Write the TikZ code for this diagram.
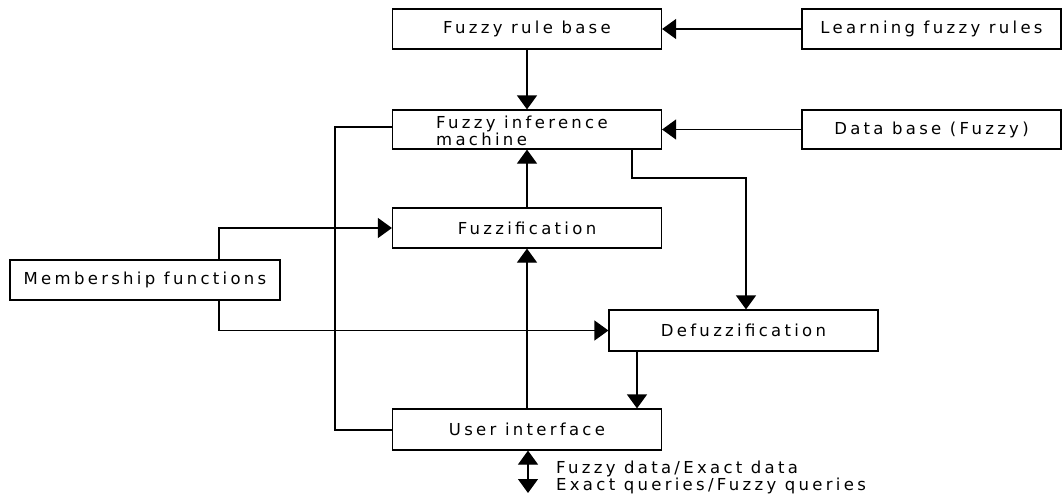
\documentclass[tikz,border=0pt]{standalone}
\usepackage{fontspec}
\setmainfont{DejaVu Sans}[LetterSpace=20]
\usetikzlibrary{arrows.meta}
\begin{document}
\begin{tikzpicture}[x=1pt,y=-1pt,
  box/.style={draw,line width=1.2pt,minimum height=40pt,inner sep=0pt,font=\fontsize{16.5}{16.5}\selectfont},
  conn/.style={line width=1.2pt},
  arr/.style={conn,-{Triangle[width=20pt,length=14pt]}},
  lbl/.style={font=\fontsize{16.5}{16.5}\selectfont,align=left,inner sep=0pt,anchor=north west}
]
\useasboundingbox (0,0) rectangle (1062,495);
\node[box,minimum width=269pt] (rule) at (527,29) {Fuzzy rule base};
\node[box,minimum width=259pt] (learn) at (931.5,29) {Learning fuzzy rules};
\node[box,minimum width=269pt,minimum height=39pt] (inf) at (527,129.5) {};
\node[lbl] (inftxt) at (436,116) {Fuzzy inference\\machine};
\node[box,minimum width=259pt,minimum height=39pt] (db) at (931.5,129.5) {Data base (Fuzzy)};
\node[box,minimum width=269pt] (fuzz) at (527,228) {Fuzzification};
\node[box,minimum width=270pt] (memb) at (145,280) {Membership functions};
\node[box,minimum width=269pt,minimum height=41pt] (defuzz) at (743.5,330.5) {Defuzzification};
\node[box,minimum width=269pt,minimum height=41pt] (ui) at (527,429.5) {User interface};
\node[lbl] (io) at (556,461) {Fuzzy data/Exact data\\Exact queries/Fuzzy queries};
\coordinate (ioend) at (528,493);

\draw[arr] (learn.west) -- (rule.east);
\draw[arr] (db.west) -- (inf.east);
\draw[arr] (rule.south) -- (inf.north);
\draw[arr] (fuzz.north) -- (inf.south);
\draw[arr] (ui.north) -- (fuzz.south);
\draw[arr] (memb.north -| 219,0) |- (fuzz.west);
\draw[arr] (memb.south -| 219,0) |- (defuzz.west);
\draw[conn] (inf.west |- 0,127) -| (335,430) -- (ui.west |- 0,430);
\draw[arr] (inf.south -| 632,0) |- (746,178) -- (defuzz.north -| 746,0);
\draw[arr] (defuzz.south -| 637,0) -- (ui.north -| 637,0);
\draw[conn,{Triangle[width=20pt,length=14pt]}-{Triangle[width=20pt,length=14pt]}] (ui.south -| 528,0) -- (ioend);
\end{tikzpicture}
\end{document}
